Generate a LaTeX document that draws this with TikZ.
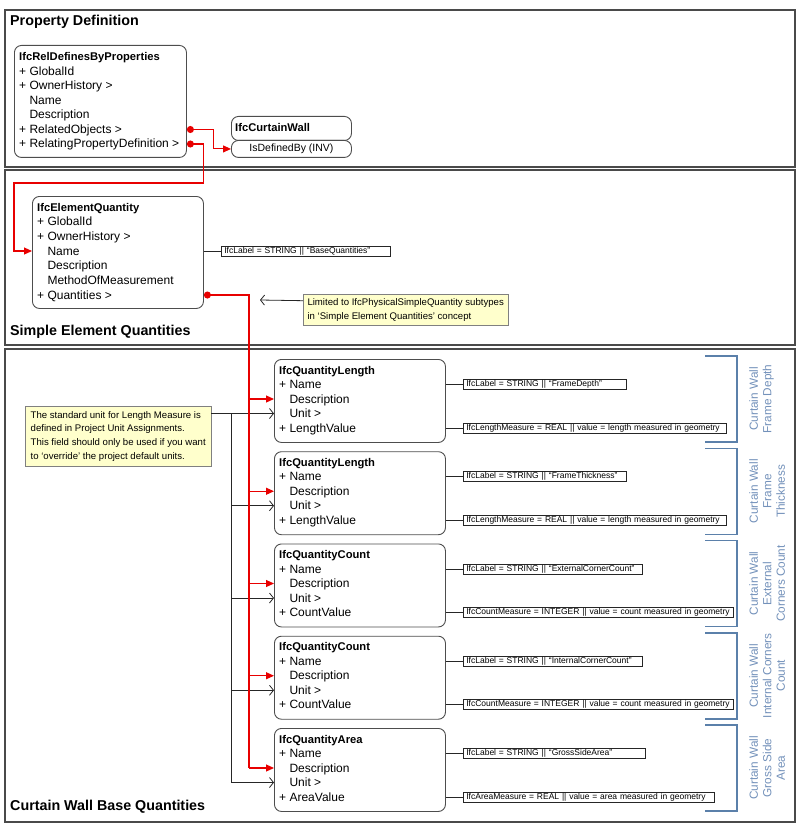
\documentclass[tikz,border=0pt]{standalone}
\usepackage{fontspec}
\setmainfont{Liberation Sans}
\usetikzlibrary{arrows.meta, positioning}

\definecolor{panelgray}{HTML}{4A4A4A}
\definecolor{boxgray}{HTML}{4D4D4D}
\definecolor{linkred}{HTML}{E80000}
\definecolor{notefill}{HTML}{FFFFCC}
\definecolor{brkblue}{HTML}{5B80AA}
\definecolor{brktext}{HTML}{7391BA}

\begin{document}
\begin{tikzpicture}[
  x=1pt, y=-1pt,
  panel/.style   = {draw=panelgray, line width=1.1pt},
  ptitle/.style  = {anchor=west, inner sep=0pt, font=\fontsize{14.3}{16}\selectfont\bfseries},
  cls/.style     = {draw=boxgray, line width=0.9pt, rounded corners=7pt,
                    anchor=north west, inner sep=0pt},
  row/.style     = {anchor=west, inner sep=0pt, text height=10pt, text depth=2pt,
                    font=\fontsize{12}{14}\selectfont},
  rowhd/.style   = {row, font=\fontsize{11.2}{14}\selectfont\bfseries},
  lbl/.style     = {draw=black!85, line width=0.7pt, anchor=west, inner xsep=3pt,
                    inner ysep=0.5pt, minimum height=10pt, text width=#1pt,
                    align=left, font=\fontsize{8.5}{9}\selectfont},
  note/.style    = {draw=black!50, fill=notefill, anchor=north west, inner sep=3pt,
                    align=left, font=\fontsize{9.6}{13.7}\selectfont},
  conn/.style    = {draw=black!85, line width=0.8pt},
  blkarr/.style  = {conn, -{Straight Barb[length=4pt, width=10pt]}},
  redline/.style = {draw=linkred, line width=1.1pt},
  redarr/.style  = {redline, -{Triangle[length=8pt, width=7pt]}},
  brk/.style     = {draw=brkblue, line width=1.5pt},
  brklbl/.style  = {rotate=90, anchor=north, inner sep=0pt, align=center,
                    text=brktext, font=\fontsize{11.8}{13.5}\selectfont},
]
  \useasboundingbox (0,0) rectangle (800,829);

  % panels
  \draw[panel] (5,10)  rectangle (795,167);
  \draw[panel] (5,170) rectangle (795,345);
  \draw[panel] (5,349) rectangle (795,822);
  \node[ptitle] (pd-title) at (10,22)  {Property Definition};
  \node[ptitle] (se-title) at (10,332) {Simple Element Quantities};
  \node[ptitle] (cw-title) at (10,807) {Curtain Wall Base Quantities};

  % property definition
  \node[cls, minimum width=172pt, minimum height=112pt] (rdp) at (14,45) {};
  \node[rowhd] (rdp-hd) at (19,57) {IfcRelDefinesByProperties};
  \foreach \t [count=\k] in {+ GlobalId, + OwnerHistory >, \phantom{+ }Name,
      \phantom{+ }Description, + RelatedObjects >, + RelatingPropertyDefinition >}
    \node[row] (rdp-\k) at (19,{57+14.5*\k}) {\t};

  \node[cls, minimum width=120pt, minimum height=24pt] (cw) at (231,116) {};
  \node[rowhd] (cw-hd) at (235,128) {IfcCurtainWall};
  \node[cls, minimum width=120pt, minimum height=17pt,
        font=\fontsize{10.5}{12}\selectfont] (cwinv) at (231,140) {IsDefinedBy (INV)};

  % simple element quantities
  \node[cls, minimum width=171pt, minimum height=112pt] (eq) at (32,196) {};
  \node[rowhd] (eq-hd) at (37,207) {IfcElementQuantity};
  \foreach \t [count=\k] in {+ GlobalId, + OwnerHistory >, \phantom{+ }Name,
      \phantom{+ }Description, \phantom{+ }MethodOfMeasurement, + Quantities >}
    \node[row] (eq-\k) at (37,{207+14.67*\k}) {\t};
  \node[lbl=163] (eq-lbl) at (221,0 |- eq-3) {IfcLabel = STRING || ``BaseQuantities''};
  \draw[conn] (eq.east |- eq-3) -- (eq-lbl.west);

  \node[note, minimum width=205pt, minimum height=31pt] (note2) at (303,294)
    {Limited to IfcPhysicalSimpleQuantity subtypes\\in `Simple Element Quantities' concept};
  \coordinate (lim-tip) at (260,300);
  \draw[blkarr] ([yshift=9pt]note2.west) -- (lim-tip);

  % curtain wall base quantities
  \foreach \i/\hd/\val in {1/IfcQuantityLength/LengthValue, 2/IfcQuantityLength/LengthValue,
      3/IfcQuantityCount/CountValue, 4/IfcQuantityCount/CountValue, 5/IfcQuantityArea/AreaValue}{
    \pgfmathsetmacro{\qy}{359+92.25*(\i-1)}
    \node[cls, minimum width=171pt, minimum height=83pt] (q\i) at (274,\qy) {};
    \node[rowhd] (q\i-hd) at (279,{\qy+11}) {\hd};
    \foreach \t [count=\k] in {+ Name, \phantom{+ }Description, \phantom{+ }Unit >, + \val}
      \node[row] (q\i-\k) at (279,{\qy+11+14.5*\k}) {\t};
  }

  \foreach \i/\lname/\lw/\mtext/\mw in {
      1/FrameDepth/157/{IfcLengthMeasure = REAL || value = length measured in geometry}/257,
      2/FrameThickness/157/{IfcLengthMeasure = REAL || value = length measured in geometry}/257,
      3/ExternalCornerCount/173/{IfcCountMeasure = INTEGER || value = count measured in geometry}/264,
      4/InternalCornerCount/173/{IfcCountMeasure = INTEGER || value = count measured in geometry}/264,
      5/GrossSideArea/176/{IfcAreaMeasure = REAL || value = area measured in geometry}/245}{
    \node[lbl=\lw] (q\i-nm) at (463,0 |- q\i-1) {IfcLabel = STRING || ``\lname''};
    \node[lbl=\mw] (q\i-ms) at (463,0 |- q\i-4) {\mtext};
    \draw[conn] (q\i.east |- q\i-1) -- (q\i-nm.west);
    \draw[conn] (q\i.east |- q\i-4) -- (q\i-ms.west);
  }

  \foreach \i/\txt in {1/{Curtain Wall\\Frame Depth}, 2/{Curtain Wall\\Frame\\Thickness},
      3/{Curtain Wall\\External\\Corners Count}, 4/{Curtain Wall\\Internal Corners\\Count},
      5/{Curtain Wall\\Gross Side\\Area}}{
    \pgfmathsetmacro{\qy}{359+92.25*(\i-1)}
    \draw[brk] (705,{\qy-3}) -- (737,{\qy-3}) -- (737,{\qy+83}) -- (705,{\qy+83});
    \node[brklbl] (q\i-tag) at (749,{\qy+40}) {\txt};
  }

  \node[note, minimum width=186pt, minimum height=60pt] (note1) at (25,406)
    {The standard unit for Length Measure is\\defined in Project Unit Assignments.\\
     This field should only be used if you want\\to `override' the project default units.};
  \draw[blkarr] (note1.east |- q1-3) -- (q1.west |- q1-3);
  \foreach \i in {2,...,5}
    \draw[blkarr] (231,0 |- q1-3) |- (q\i.west |- q\i-3);

  % red links
  \draw[redline, {Circle[length=7pt]}-{Triangle[length=8pt, width=7pt]}]
    (rdp.east |- rdp-5) -- ++(27,0) |- (cwinv.west);
  \draw[redline, {Circle[length=7pt]}-{Triangle[length=8pt, width=7pt]}]
    (rdp.east |- rdp-6) -- ++(17,0) |- (14,183) |- (eq.west |- eq-3);
  \draw[redline, {Circle[length=7pt]}-] (eq.east |- eq-6) -| (249,0 |- q5-2);
  \foreach \i in {1,...,5}
    \draw[redarr] (249,0 |- q\i-2) -- (q\i.west |- q\i-2);
\end{tikzpicture}
\end{document}
